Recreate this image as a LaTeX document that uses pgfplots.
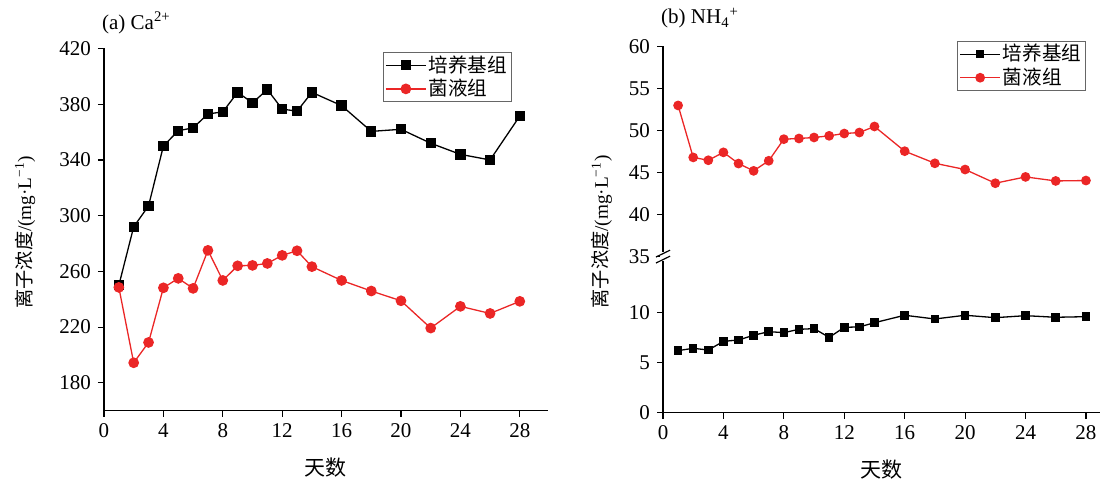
\documentclass[border=0pt]{standalone}
\usepackage{fontspec}
\setmainfont{Liberation Serif}
\newfontfamily\cjk{Noto Sans CJK SC}
\usepackage{pgfplots}
\usepackage{pgfplotstable}
\pgfplotsset{compat=1.18}
\definecolor{myred}{RGB}{235,38,38}

\pgfplotstableread{
x black red
1 250 248.5
2 292 194.4
3 307 209
4 350 248.2
5 361 255
6 363 247.8
7 373 275.1
8 374.5 253.5
9 388.5 264
10 381 264.3
11 390.5 265.7
12 376.5 271.5
13 375 274.8
14 388.5 263.4
16 379 253.5
18 360.5 245.9
20 362 238.9
22 352 219.3
24 344 234.9
26 340 229.8
28 371.5 238.5
}\caTable

\pgfplotstableread{
x black red
1 6.18 52.98
2 6.41 46.8
3 6.24 46.46
4 7.1 47.4
5 7.24 46.07
6 7.71 45.2
7 8.07 46.4
8 7.97 48.97
9 8.3 49.05
10 8.37 49.17
11 7.5 49.37
12 8.5 49.64
13 8.54 49.76
14 8.96 50.48
16 9.7 47.54
18 9.33 46.1
20 9.7 45.36
22 9.46 43.73
24 9.66 44.48
26 9.5 44.0
28 9.56 44.05
}\nhTable

\pgfplotsset{
  myaxis/.style={
    scale only axis,
    axis x line*=bottom,
    axis y line*=left,
    tick align=outside,
    major tick length=3pt,
    tick style={black, line width=0.6pt},
    axis line style={black, line width=0.6pt},
    ticklabel style={font=\fontsize{10.5}{12}\selectfont},
    /pgf/number format/assume math mode=true,
    xtick={0,4,...,28},
    xlabel={\cjk 天数},
    xlabel style={font=\fontsize{10.5}{12}\selectfont, at={(axis description cs:0.5,0)}, anchor=center, yshift=-28.5pt},
    ylabel={{\cjk 离子浓度}/(mg·L\textsuperscript{−1})},
    clip=false,
    legend cell align=left,
    legend image code/.code={
      \draw[mark repeat=2,mark phase=2,#1] plot coordinates {(0pt,0pt) (10pt,0pt) (20pt,0pt)};
    },
  },
  mylegend/.style={draw=gray!80!black, line width=0.4pt,
    font=\cjk\fontsize{9.8}{11.3}\selectfont, inner xsep=1pt, inner ysep=0.5pt, row sep=0pt,
    nodes={inner sep=1pt}},
  blk/.style={black, line width=0.65pt, mark=square*, mark options={fill=black, draw=black, solid}},
  rd/.style={myred, line width=0.65pt, mark=*, mark options={fill=myred, draw=myred, solid}},
}

\begin{document}
\begin{tikzpicture}
\useasboundingbox (-52pt,-34.65pt) rectangle (500.5pt,205.35pt);

\begin{axis}[myaxis,
  at={(0pt,0pt)}, anchor=south west,
  width=222pt, height=181.1pt,
  xmin=0, xmax=29.9, ymin=160, ymax=420,
  ytick={180,220,...,420},
  ylabel style={font=\fontsize{9.6}{11}\selectfont, at={(axis description cs:-0.178,0.493)}, anchor=center, rotate=0},
  legend style={mylegend, at={(axis description cs:0.628,0.99)}, anchor=north west},
]
\addplot[blk, mark size=2.25pt] table[x=x, y=black] {\caTable};
\addlegendentry{培养基组}
\addplot[rd, mark size=2.35pt] table[x=x, y=red] {\caTable};
\addlegendentry{菌液组}
\node[anchor=west, font=\fontsize{10.5}{12}\selectfont, inner sep=0pt] at (axis description cs:-0.005,1) [yshift=13pt] {(a) Ca\textsuperscript{2+}};
\end{axis}

\begin{axis}[myaxis,
  at={(279.5pt,-1pt)}, anchor=south west,
  width=218.5pt, height=183.3pt,
  xmin=0, xmax=28.93, ymin=0, ymax=36.5,
  ytick={0,5,10,15.54,19.725,23.91,28.095,32.28,36.465},
  yticklabels={0,5,10,35,40,45,50,55,60},
  ylabel style={font=\fontsize{9.6}{11}\selectfont, at={(axis description cs:-0.14,0.493)}, anchor=center, rotate=0},
  legend style={mylegend, at={(axis description cs:0.673,1.014)}, anchor=north west},
]
\addplot[blk, mark size=1.8pt] table[x=x, y=black] {\nhTable};
\addlegendentry{培养基组}
\addplot[rd, mark size=2.1pt] table[x=x, y expr={15.54+(\thisrow{red}-35)*0.837}] {\nhTable};
\addlegendentry{菌液组}
\draw[white, line width=3pt] (axis cs:0,15.1) -- (axis cs:0,16.0);
\draw[black, line width=0.6pt] ([xshift=-3.5pt,yshift=-3.2pt]axis cs:0,15.54) -- ([xshift=3.5pt,yshift=0.2pt]axis cs:0,15.54);
\draw[black, line width=0.6pt] ([xshift=-3.5pt,yshift=-0.2pt]axis cs:0,15.54) -- ([xshift=3.5pt,yshift=3.2pt]axis cs:0,15.54);
\node[anchor=west, font=\fontsize{10.5}{12}\selectfont, inner sep=0pt] at (axis description cs:-0.005,1) [yshift=14pt] {(b) NH\textsubscript{4}\textsuperscript{+}};
\end{axis}
\end{tikzpicture}
\end{document}
